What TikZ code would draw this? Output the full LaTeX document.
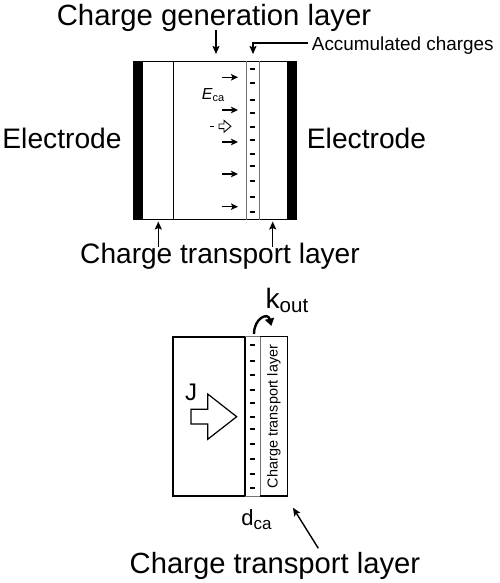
\documentclass[tikz,border=0pt]{standalone}
\usepackage{fontspec}
\setmainfont{Liberation Sans}
\usetikzlibrary{arrows.meta}
\begin{document}
\begin{tikzpicture}[x=1pt,y=-1pt,
  lbl/.style={inner sep=0pt, anchor=base},
  ptr/.style={line width=1.4pt, -{Stealth[length=8pt,width=7pt,inset=1.5pt]}},
  fld/.style={line width=1.3pt, -{Stealth[length=7pt,width=6.5pt,inset=1.5pt]}},
  frame/.style={line width=1pt},
  greyline/.style={draw=black!55, line width=1pt},
  chg/.style={line width=1.7pt},
  blockarrow/.style={draw=black, fill=white, line width=1.2pt, line join=miter}]
\useasboundingbox (0,0) rectangle (499,583);

% ---------- top device ----------
\fill (133,61) rectangle (143,220);
\fill (287,61) rectangle (297,220);
\draw[frame] (143,61.5) -- (287,61.5);
\draw[frame] (143,219.5) -- (287,219.5);
\draw[frame] (173.3,61.5) -- (173.3,219.5);
\draw[greyline] (246.7,61.5) -- (246.7,219.5);
\draw[greyline] (259.5,61.5) -- (259.5,219.5);
\foreach \yy in {69.3,83.3,100,112.7,127.3,140,154.3,166,180.7,197.3,211.7}
  \draw[chg] (250.3,\yy) -- (255.3,\yy);
\foreach \yy in {77.3,110,142,174,206.7}
  \draw[fld] (221.5,\yy) -- (238,\yy);
\node[lbl] (eca) at (213,99.3) {{\fontsize{16}{16}\selectfont\itshape E}\raisebox{-2pt}{\fontsize{11}{11}\selectfont ca}};
\draw[line width=1.3pt] (210,126.3) -- (214.2,126.3);
\draw[line width=0.9pt, line join=miter] (219,124) -- (224,124) -- (224,120.4) -- (230.9,126.3) -- (224,132.2) -- (224,128.6) -- (219,128.6) -- cycle;

% labels top
\node[lbl, font=\fontsize{29.3}{30}\selectfont] (cgl) at (214,26) {Charge generation layer};
\node[lbl, font=\fontsize{18.9}{20}\selectfont, anchor=base west] (acc) at (311.7,50.7) {Accumulated charges};
\node[lbl, font=\fontsize{28.2}{30}\selectfont] (elL) at (62,148) {Electrode};
\node[lbl, font=\fontsize{28.2}{30}\selectfont] (elR) at (366.5,148) {Electrode};
\node[lbl, font=\fontsize{28.1}{30}\selectfont] (ctlA) at (220,263.3) {Charge transport layer};

\coordinate (cgA) at (216,30);
\coordinate (cgB) at (216,54);
\draw[ptr] (cgA) -- (cgB);
\coordinate (acA) at (308,43);
\coordinate (acB) at (253,43);
\coordinate (acC) at (253,54);
\draw[ptr] (acA) -- (acB) -- (acC);
\coordinate (ctA1) at (158.3,246.7);
\coordinate (ctB1) at (158.3,221.5);
\coordinate (ctA2) at (272.7,246.7);
\coordinate (ctB2) at (272.7,221.5);
\draw[ptr] (ctA1) -- (ctB1);
\draw[ptr] (ctA2) -- (ctB2);

% ---------- bottom device ----------
\draw[line width=2pt] (172.7,336.7) rectangle (245,496);
\draw[greyline] (245,336.7) -- (260,336.7);
\draw[greyline] (245,496) -- (260,496);
\draw[greyline] (260,336.7) -- (260,496);
\draw[line width=1.4pt] (260,336.7) -- (287.3,336.7) -- (287.3,496) -- (260,496);
\foreach \yy in {345,360.7,375,390,403,416.7,429.3,444,459.3,474,488.3}
  \draw[chg] (250.2,\yy) -- (255.2,\yy);
\node[inner sep=0pt, rotate=90, font=\fontsize{14.4}{15}\selectfont] (ctlV) at (274,416.5) {Charge transport layer};
\draw[blockarrow] (191,409.3) -- (207.7,409.3) -- (207.7,394) -- (236.7,416.7) -- (207.7,439.3) -- (207.7,424) -- (191,424) -- cycle;
\node[lbl, font=\fontsize{24}{25}\selectfont] (J) at (191,400) {J};
\draw[line width=2.4pt, -{Triangle[length=7.5pt,width=9pt]}] (254,334) .. controls (254,318) and (268,312) .. (271.3,326);
\node[lbl, anchor=base west] (kout) at (265.5,308.3) {{\fontsize{28}{28}\selectfont k}\raisebox{-4pt}{\fontsize{20.5}{21}\selectfont out}};
\node[lbl] (dca) at (256.5,525) {{\fontsize{22}{22}\selectfont d}\raisebox{-4pt}{\fontsize{17}{17}\selectfont ca}};
\node[lbl, font=\fontsize{29.2}{30}\selectfont] (ctlB) at (275,573.3) {Charge transport layer};
\coordinate (ctC) at (318.3,548.3);
\coordinate (ctD) at (293,507.8);
\draw[ptr] (ctC) -- (ctD);
\end{tikzpicture}
\end{document}
